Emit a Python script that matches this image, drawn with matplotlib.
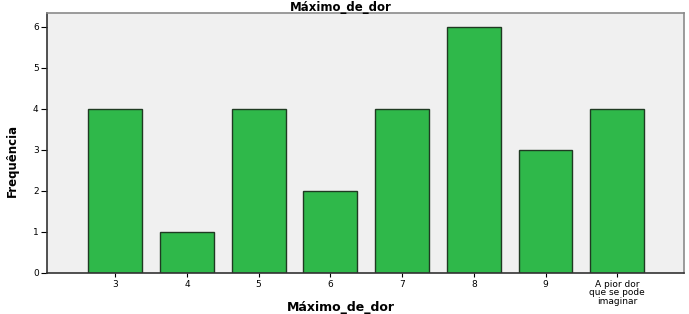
import matplotlib.pyplot as plt
import numpy as np

categories = ["3", "4", "5", "6", "7", "8", "9", "A pior dor\nque se pode\nimaginar"]
counts = [4, 1, 4, 2, 4, 6, 3, 4]

fig = plt.figure(figsize=(6.89, 3.14), dpi=100)
ax = fig.add_axes([47 / 689, 1 - 273 / 314, (684 - 47) / 689, (273 - 13) / 314])
ax.set_facecolor("#f0f0f0")

x = np.arange(len(categories))
ax.bar(x, counts, width=0.75, color="#2fb84a", edgecolor="#1f3a22", linewidth=1.0, zorder=2)

ax.set_xlim(-0.95, 7.93)
ax.set_ylim(0, 6.34)
ax.set_xticks(x)
ax.set_xticklabels(categories, fontsize=6.5, linespacing=0.9)
ax.set_yticks(range(7))
ax.tick_params(axis="y", labelsize=6.5, length=4, width=0.8, pad=2)
ax.tick_params(axis="x", length=3, width=0.8, pad=2)
for s in ax.spines.values():
    s.set_color("#8a8a8a")
    s.set_linewidth(1.2)
ax.spines["left"].set_color("#333333")
ax.spines["bottom"].set_color("#333333")

fig.text(0.495, 1 - 8 / 314, "Máximo_de_dor", ha="center", va="center",
         fontsize=8.5, fontweight="bold")
fig.text(0.495, 1 - 307 / 314, "Máximo_de_dor", ha="center", va="center",
         fontsize=9, fontweight="bold")
fig.text(12 / 689, 1 - 160 / 314, "Frequência", ha="center", va="center",
         rotation=90, fontsize=8.5, fontweight="bold",
         family="Liberation Sans Narrow")

fig.savefig("out.png", dpi=100)
